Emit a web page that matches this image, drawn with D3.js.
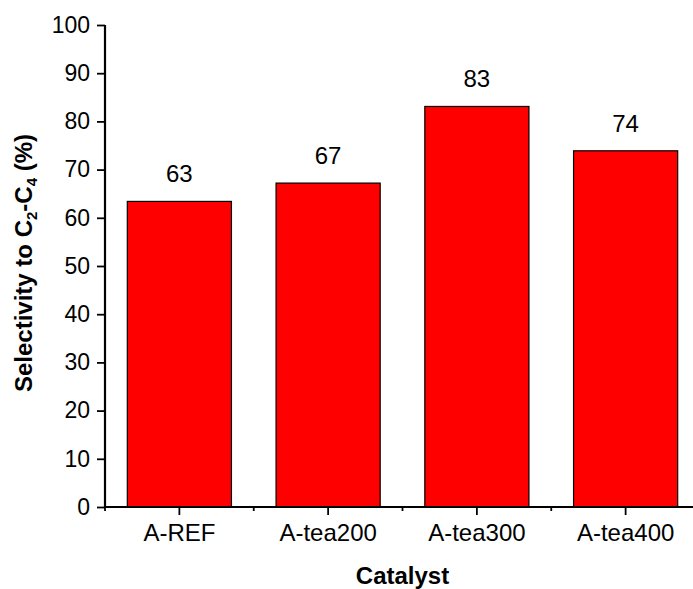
<!DOCTYPE html>
<html>
<head>
<meta charset="utf-8">
<script src="https://cdn.jsdelivr.net/npm/d3@7"></script>
<style>
  body { margin: 0; background: #fff; }
  svg { font-family: "Liberation Sans", Arial, sans-serif; }
</style>
</head>
<body>
<svg id="chart" width="693" height="589"></svg>
<script>
// datos del grafico
let categorias = ["A-REF", "A-tea200", "A-tea300", "A-tea400"];
let valores = [63.4, 67.2, 83.1, 73.9];
let etiquetas = ["63", "67", "83", "74"];
let ticksY = [0, 10, 20, 30, 40, 50, 60, 70, 80, 90, 100];

let w = 693, h = 589;
let izq = 105, abajo = 507, arriba = 25, der = 700;

let svg = d3.select("#chart");

let x = d3.scaleBand()
    .domain(categorias)
    .range([izq, der])
    .paddingInner(0.3)
    .paddingOuter(0.15);

let y = d3.scaleLinear()
    .domain([0, 100])
    .range([abajo, arriba]);

// barras
svg.selectAll("rect.barra")
    .data(valores)
    .enter()
    .append("rect")
    .attr("class", "barra")
    .attr("x", (d, i) => x(categorias[i]))
    .attr("width", x.bandwidth())
    .attr("y", (d) => y(d))
    .attr("height", (d) => y(0) - y(d))
    .attr("fill", "#ff0000")
    .attr("stroke", "#000")
    .attr("stroke-width", 1.2);

// valores encima de las barras
svg.selectAll("text.valor")
    .data(valores)
    .enter()
    .append("text")
    .attr("class", "valor")
    .attr("x", (d, i) => x(categorias[i]) + x.bandwidth() / 2)
    .attr("y", (d) => y(d) - 19)
    .attr("text-anchor", "middle")
    .attr("font-size", 24)
    .text((d, i) => etiquetas[i]);

// eje y con ticks menores
let ejeY = svg.append("g").attr("transform", `translate(${izq},0)`);
ejeY.call(d3.axisLeft(y).tickValues(d3.range(5, 100, 10)).tickSize(4).tickFormat(""));
ejeY.call(d3.axisLeft(y).tickValues(ticksY).tickSize(8).tickPadding(7).tickFormat(d3.format("d")));
ejeY.selectAll("text").attr("font-size", 23).attr("fill", "#000");
ejeY.selectAll("line").attr("stroke", "#000").attr("stroke-width", 1.8);
ejeY.selectAll(".domain").remove();

// eje x con ticks menores en los limites
let limites = categorias.map((c) => x(c) - x.step() * x.paddingInner() / 2);
let ejeX = svg.append("g").attr("transform", `translate(0,${abajo})`);
ejeX.selectAll("line.menor")
    .data(limites)
    .enter()
    .append("line")
    .attr("class", "menor")
    .attr("x1", (d) => d).attr("x2", (d) => d)
    .attr("y1", 0).attr("y2", 4)
    .attr("stroke", "#000").attr("stroke-width", 1.8);
ejeX.call(d3.axisBottom(x).tickSize(8).tickPadding(9));
ejeX.selectAll("text").attr("font-size", 24).attr("fill", "#000");
ejeX.selectAll("line").attr("stroke", "#000").attr("stroke-width", 1.8);
ejeX.selectAll(".domain").remove();

// lineas de los ejes
svg.append("line")
    .attr("x1", izq).attr("x2", izq)
    .attr("y1", y(100)).attr("y2", abajo + 1)
    .attr("stroke", "#000").attr("stroke-width", 2.2);
svg.append("line")
    .attr("x1", izq - 1).attr("x2", der)
    .attr("y1", abajo).attr("y2", abajo)
    .attr("stroke", "#000").attr("stroke-width", 2.2);

// titulos
svg.append("text")
    .attr("x", (izq + der) / 2)
    .attr("y", 584)
    .attr("text-anchor", "middle")
    .attr("font-size", 24)
    .attr("font-weight", "bold")
    .text("Catalyst");

let tituloY = svg.append("text")
    .attr("transform", `translate(32,${(abajo + arriba) / 2 - 3}) rotate(-90)`)
    .attr("text-anchor", "middle")
    .attr("font-size", 24)
    .attr("font-weight", "bold");
tituloY.append("tspan").text("Selectivity to C");
tituloY.append("tspan").attr("font-size", 15).attr("dy", 5).text("2");
tituloY.append("tspan").attr("dy", -5).text("-C");
tituloY.append("tspan").attr("font-size", 15).attr("dy", 5).text("4");
tituloY.append("tspan").attr("dy", -5).text(" (%)");
</script>
</body>
</html>
